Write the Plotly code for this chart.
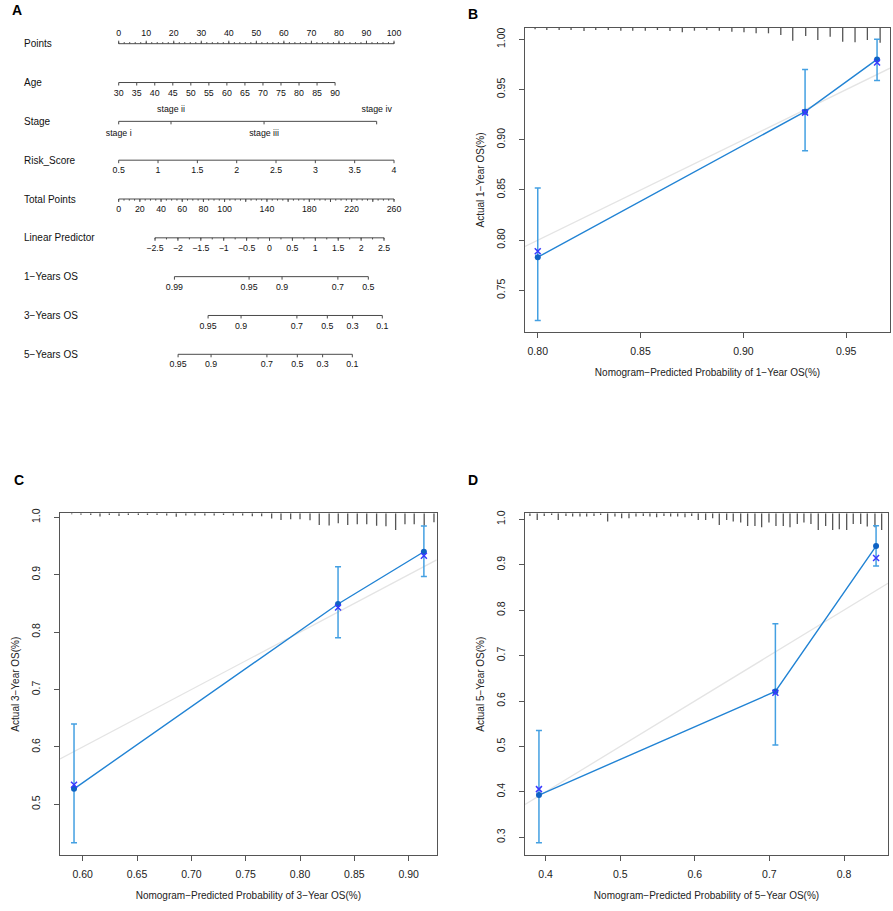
import plotly.graph_objects as go
import numpy as np

FIG_W, FIG_H = 893, 911
FONT = "Liberation Sans, Arial, Helvetica, sans-serif"

# ======================= Panel A : nomogram data =======================
ROW_NAMES = ["Points", "Age", "Stage", "Risk_Score", "Total Points",
             "Linear Predictor", "1\u2212Years OS", "3\u2212Years OS", "5\u2212Years OS"]
POINTS_TICKS = [0, 10, 20, 30, 40, 50, 60, 70, 80, 90, 100]
AGE_TICKS = [30, 35, 40, 45, 50, 55, 60, 65, 70, 75, 80, 85, 90]
STAGE_LEVELS = ["stage i", "stage ii", "stage iii", "stage iv"]
STAGE_POINTS = [0.0, 19.0, 52.8, 93.7]
RISK_TICKS = [0.5, 1, 1.5, 2, 2.5, 3, 3.5, 4]
TOTAL_TICKS = [0, 20, 40, 60, 80, 100, 120, 140, 160, 180, 200, 220, 240, 260]
TOTAL_LABELS = [0, 20, 40, 60, 80, 100, 140, 180, 220, 260]
LP_TICKS = [-2.5, -2, -1.5, -1, -0.5, 0, 0.5, 1, 1.5, 2, 2.5]
OS1_TICKS = [0.99, 0.95, 0.9, 0.7, 0.5]
OS3_TICKS = [0.95, 0.9, 0.7, 0.5, 0.3, 0.1]
OS5_TICKS = [0.95, 0.9, 0.7, 0.5, 0.3, 0.1]

# model scale constants
AGE_MIN, AGE_MAX_POINTS = 30, 78.6
RISK_MIN, RISK_MAX = 0.5, 4.0
TOTAL_MAX = 260
LP_INTERCEPT, LP_SLOPE = -3.293, 0.02312
BASE_C = {"1": -2.524, "3": -1.629, "5": -0.974}

# ======================= Calibration panels data =======================
B_PRED = [0.800, 0.930, 0.965]
B_OBS = [0.783, 0.928, 0.980]
B_CORR = [0.789, 0.927, 0.977]
B_LO = [0.720, 0.889, 0.959]
B_HI = [0.852, 0.970, 1.000]
B_RUG_X = [0.7987, 0.8044, 0.8104, 0.8162, 0.8225, 0.8282, 0.8343, 0.8404, 0.8462, 0.8523,
           0.8582, 0.8643, 0.8703, 0.8762, 0.8822, 0.8883, 0.8944, 0.9003, 0.9062, 0.9122,
           0.9182, 0.9240, 0.9303, 0.9362, 0.9422, 0.9483, 0.9543, 0.9603, 0.9665]
B_RUG_N = [1.3, 2, 2, 2, 3, 2, 2, 2.7, 2.7, 2.7, 2, 3, 4.3, 2.7, 2, 2.7, 3.7, 4.3, 5.3, 5.3,
           7, 12.7, 8, 12, 8.7, 13.7, 14.3, 12, 14.7]

C_PRED = [0.592, 0.835, 0.914]
C_OBS = [0.527, 0.849, 0.940]
C_CORR = [0.534, 0.843, 0.933]
C_LO = [0.433, 0.790, 0.897]
C_HI = [0.640, 0.914, 0.985]
C_RUG_X = [0.5899, 0.5984, 0.6074, 0.6159, 0.6245, 0.6334, 0.6420, 0.6512, 0.6596, 0.6684,
           0.6773, 0.6861, 0.6949, 0.7033, 0.7124, 0.7210, 0.7296, 0.7386, 0.7472, 0.7561,
           0.7647, 0.7739, 0.7825, 0.7914, 0.8000, 0.8092, 0.8177, 0.8268, 0.8352, 0.8439,
           0.8527, 0.8614, 0.8705, 0.8791, 0.8880, 0.8966, 0.9051, 0.9143, 0.9233]
C_RUG_N = [1, 1.5, 1.7, 3.3, 1.7, 2.7, 1.7, 1.7, 1.7, 1.7, 2.3, 3.5, 2.3, 2.3, 2.3, 2.3, 1.7,
           2.3, 2.3, 3, 3, 5.3, 6.7, 6, 6, 7, 11.7, 12.3, 10, 11.7, 11, 11, 12.5, 13, 16.7,
           11, 11, 12.5, 9]

D_PRED = [0.391, 0.708, 0.843]
D_OBS = [0.393, 0.621, 0.941]
D_CORR = [0.406, 0.618, 0.915]
D_LO = [0.288, 0.503, 0.897]
D_HI = [0.535, 0.770, 0.986]
D_RUG_X = [0.3789, 0.3887, 0.3981, 0.4080, 0.4169, 0.4272, 0.4362, 0.4460, 0.4550, 0.4648,
           0.4737, 0.4831, 0.4929, 0.5019, 0.5117, 0.5211, 0.5309, 0.5398, 0.5488, 0.5586,
           0.5676, 0.5770, 0.5868, 0.5958, 0.6046, 0.6145, 0.6239, 0.6328, 0.6427, 0.6515,
           0.6615, 0.6708, 0.6806, 0.6896, 0.6994, 0.7088, 0.7186, 0.7276, 0.7374, 0.7463,
           0.7557, 0.7655, 0.7754, 0.7848, 0.7937, 0.8036, 0.8124, 0.8224, 0.8312, 0.8415,
           0.8505]
D_RUG_N = [2.7, 6.7, 2.7, 1.7, 6.7, 2.7, 3.3, 3.3, 3.3, 2.7, 1.7, 8.3, 3.3, 5, 5, 3.3, 2.7,
           3.3, 4, 2.7, 3.3, 3.3, 4, 2.7, 6.7, 6.7, 5, 11.7, 6.7, 8.3, 9.3, 12.7, 12.7, 14,
           9.3, 12.7, 12.7, 14, 10.7, 9.3, 10.7, 16.7, 12.7, 16.7, 16, 16.7, 10.7, 10.7, 13.3,
           14, 16.7]

# ======================= scales for nomogram =======================
def pos_age(a):
    return (a - AGE_MIN) / (90 - AGE_MIN) * AGE_MAX_POINTS


def pos_risk(r):
    return (r - RISK_MIN) / (RISK_MAX - RISK_MIN) * 100


def pos_total(t):
    return t / TOTAL_MAX * 100


def pos_lp(lp):
    return pos_total((lp - LP_INTERCEPT) / LP_SLOPE)


def pos_surv(s, key):
    lp = np.log(-np.log(s)) - BASE_C[key]
    return pos_lp(lp)


def fmt(v):
    s = ("%g" % v)
    return s.replace("-", "\u2212")


fig = go.Figure()

# rows: (positions of major ticks, labels, label side, minor tick positions, tick direction)
rows = []
rows.append(([p for p in POINTS_TICKS], [str(p) for p in POINTS_TICKS], -1,
             [p for p in np.arange(0, 100.1, 2)], -1))
rows.append(([pos_age(a) for a in AGE_TICKS], [str(a) for a in AGE_TICKS], 1, [], 1))
rows.append((STAGE_POINTS, STAGE_LEVELS, None, [], 1))
rows.append(([pos_risk(r) for r in RISK_TICKS], [fmt(r) for r in RISK_TICKS], 1, [], 1))
rows.append(([pos_total(t) for t in TOTAL_TICKS],
             [str(t) if t in TOTAL_LABELS else "" for t in TOTAL_TICKS], 1,
             [pos_total(t) for t in np.arange(0, 260.1, 5)], 1))
rows.append(([pos_lp(v) for v in LP_TICKS], [fmt(v) for v in LP_TICKS], 1,
             [pos_lp(v) for v in np.arange(-2.5, 2.51, 0.25)], 1))
rows.append(([pos_surv(s, "1") for s in OS1_TICKS], [fmt(s) for s in OS1_TICKS], 1, [], 1))
rows.append(([pos_surv(s, "3") for s in OS3_TICKS], [fmt(s) for s in OS3_TICKS], 1, [], 1))
rows.append(([pos_surv(s, "5") for s in OS5_TICKS], [fmt(s) for s in OS5_TICKS], 1, [], 1))

ROW_PX = 38.825          # pixel distance between rows
MAJ = 3.0 / ROW_PX       # major tick length (row units)
MIN = 1.6 / ROW_PX
LAB = 11.0 / ROW_PX

lx, ly = [], []
tx, ty, tt = [], [], []
for i, (pos, labs, side, minors, tdir) in enumerate(rows):
    lx += [min(pos), max(pos), None]
    ly += [i, i, None]
    for p in pos:
        lx += [p, p, None]
        ly += [i, i + tdir * MAJ, None]
    for p in minors:
        lx += [p, p, None]
        ly += [i, i + tdir * MIN, None]
    for k, (p, l) in enumerate(zip(pos, labs)):
        if side is None:
            s = 1 if k % 2 == 0 else -1
            off = s * 12.0 / ROW_PX
        else:
            off = side * LAB
            if i == 0:
                off = -9.7 / ROW_PX
        tx.append(p)
        ty.append(i + off)
        tt.append(l)

fig.add_trace(go.Scatter(x=lx, y=ly, mode="lines", xaxis="x", yaxis="y",
                         line=dict(color="#4a4a4a", width=1), hoverinfo="skip",
                         showlegend=False))
fig.add_trace(go.Scatter(x=tx, y=ty, text=tt, mode="text", xaxis="x", yaxis="y",
                         textposition="middle center",
                         textfont=dict(family=FONT, size=8.8, color="#111"),
                         hoverinfo="skip", showlegend=False))

# nomogram axes (hidden)
A_DOM_X = [0, 440 / FIG_W]
A_DOM_Y = [1 - 380 / FIG_H, 1]
PTS_PX = 2.753
X0_PX = 118.7
fig.update_layout(
    xaxis=dict(domain=A_DOM_X, range=[-X0_PX / PTS_PX, (440 - X0_PX) / PTS_PX],
               visible=False, fixedrange=True),
    yaxis=dict(domain=A_DOM_Y, range=[(380 - 43.7) / ROW_PX, -43.7 / ROW_PX],
               visible=False, fixedrange=True),
)

annotations = []
for i, name in enumerate(ROW_NAMES):
    annotations.append(dict(x=22 / FIG_W, xref="paper", y=i, yref="y", text=name,
                            showarrow=False, xanchor="left", yanchor="middle",
                            font=dict(family=FONT, size=10, color="#111")))

# ======================= calibration panels =======================
LINE_C = "#2183d4"
ERR_C = "#44a0e2"
CIRC_C = "#0e62c4"
CROSS_C = "#3a3aff"
RUG_C = "#555555"
DIAG_C = "#e4e4e4"

panels = [
    dict(ax="2", pred=B_PRED, obs=B_OBS, corr=B_CORR, lo=B_LO, hi=B_HI, rx=B_RUG_X, rn=B_RUG_N,
         dx=[525, 890], dy=[28, 332], xr=[0.7938, 0.9713], yr=[0.7085, 1.0113],
         xt=[0.80, 0.85, 0.90, 0.95], yt=[0.75, 0.80, 0.85, 0.90, 0.95, 1.00], xf=".2f", yf=".2f",
         xtitle="Nomogram\u2212Predicted Probability of 1\u2212Year OS(%)",
         ytitle="Actual 1\u2212Year OS(%)"),
    dict(ax="3", pred=C_PRED, obs=C_OBS, corr=C_CORR, lo=C_LO, hi=C_HI, rx=C_RUG_X, rn=C_RUG_N,
         dx=[60, 436.7], dy=[513.3, 855], xr=[0.5791, 0.9258], yr=[0.4117, 1.007],
         xt=[0.60, 0.65, 0.70, 0.75, 0.80, 0.85, 0.90], yt=[0.5, 0.6, 0.7, 0.8, 0.9, 1.0],
         xf=".2f", yf=".1f",
         xtitle="Nomogram\u2212Predicted Probability of 3\u2212Year OS(%)",
         ytitle="Actual 3\u2212Year OS(%)"),
    dict(ax="4", pred=D_PRED, obs=D_OBS, corr=D_CORR, lo=D_LO, hi=D_HI, rx=D_RUG_X, rn=D_RUG_N,
         dx=[525, 888], dy=[513.3, 855], xr=[0.3723, 0.859], yr=[0.261, 1.0132],
         xt=[0.4, 0.5, 0.6, 0.7, 0.8], yt=[0.3, 0.4, 0.5, 0.6, 0.7, 0.8, 0.9, 1.0],
         xf=".1f", yf=".1f",
         xtitle="Nomogram\u2212Predicted Probability of 5\u2212Year OS(%)",
         ytitle="Actual 5\u2212Year OS(%)"),
]

layout_axes = {}
for P in panels:
    xa, ya = "x" + P["ax"], "y" + P["ax"]
    # ideal diagonal
    fig.add_trace(go.Scatter(x=P["xr"], y=P["xr"], mode="lines", xaxis=xa, yaxis=ya,
                             line=dict(color=DIAG_C, width=1.3), hoverinfo="skip",
                             showlegend=False))
    # rug histogram from the top frame
    plot_h = P["dy"][1] - P["dy"][0]
    unit_per_px = (P["yr"][1] - P["yr"][0]) / plot_h
    top = P["yr"][1]
    rxs, rys = [], []
    for x, n in zip(P["rx"], P["rn"]):
        rxs += [x, x, None]
        rys += [top, top - n * unit_per_px, None]
    fig.add_trace(go.Scatter(x=rxs, y=rys, mode="lines", xaxis=xa, yaxis=ya,
                             line=dict(color=RUG_C, width=1.3), hoverinfo="skip",
                             showlegend=False))
    # error bars
    obs = np.array(P["obs"])
    fig.add_trace(go.Scatter(x=P["pred"], y=P["obs"], mode="markers", xaxis=xa, yaxis=ya,
                             marker=dict(size=1, color="rgba(0,0,0,0)"),
                             error_y=dict(type="data", symmetric=False,
                                          array=list(np.array(P["hi"]) - obs),
                                          arrayminus=list(obs - np.array(P["lo"])),
                                          color=ERR_C, thickness=1.5, width=3),
                             hoverinfo="skip", showlegend=False))
    # observed line
    fig.add_trace(go.Scatter(x=P["pred"], y=P["obs"], mode="lines", xaxis=xa, yaxis=ya,
                             line=dict(color=LINE_C, width=1.4), showlegend=False))
    fig.add_trace(go.Scatter(x=P["pred"], y=P["obs"], mode="markers", xaxis=xa, yaxis=ya,
                             marker=dict(size=6, color=CIRC_C), showlegend=False))
    fig.add_trace(go.Scatter(x=P["pred"], y=P["corr"], mode="markers", xaxis=xa, yaxis=ya,
                             marker=dict(size=6, symbol="x-thin",
                                         line=dict(color=CROSS_C, width=1.5)),
                             showlegend=False))
    common = dict(showline=True, linecolor="#555", linewidth=1.2, mirror=True,
                  ticks="outside", ticklen=5, tickcolor="#555", tickwidth=1,
                  showgrid=False, zeroline=False, automargin=False, fixedrange=True,
                  tickfont=dict(family=FONT, size=10.5, color="#222"))
    layout_axes["xaxis" + P["ax"]] = dict(
        common, domain=[P["dx"][0] / FIG_W, P["dx"][1] / FIG_W], range=P["xr"],
        tickvals=P["xt"], tickformat=P["xf"], anchor=ya, ticklabelstandoff=4,
        title=dict(text=P["xtitle"], font=dict(family=FONT, size=10, color="#222"),
                   standoff=13))
    layout_axes["yaxis" + P["ax"]] = dict(
        common, domain=[1 - P["dy"][1] / FIG_H, 1 - P["dy"][0] / FIG_H], range=P["yr"],
        tickvals=P["yt"], tickformat=P["yf"], anchor=xa, tickangle=-90,
        ticklabelstandoff=10,
        title=dict(text=P["ytitle"], font=dict(family=FONT, size=10, color="#222"),
                   standoff=8))

fig.update_layout(**layout_axes)

# panel letters
for letter, x, y in [("A", 10, 10), ("B", 466, 14), ("C", 12, 480), ("D", 466, 480)]:
    annotations.append(dict(x=x / FIG_W, y=1 - y / FIG_H, xref="paper", yref="paper",
                            text="<b>%s</b>" % letter, showarrow=False,
                            xanchor="left", yanchor="middle",
                            font=dict(family=FONT, size=14, color="#000")))

fig.update_layout(width=FIG_W, height=FIG_H, margin=dict(l=0, r=0, t=0, b=0),
                  paper_bgcolor="white", plot_bgcolor="white", annotations=annotations,
                  showlegend=False, font=dict(family=FONT))

fig.write_html("out.html", config={"displayModeBar": False},
               post_script="document.body.style.margin='0';"
                           "document.body.style.overflow='hidden';")
